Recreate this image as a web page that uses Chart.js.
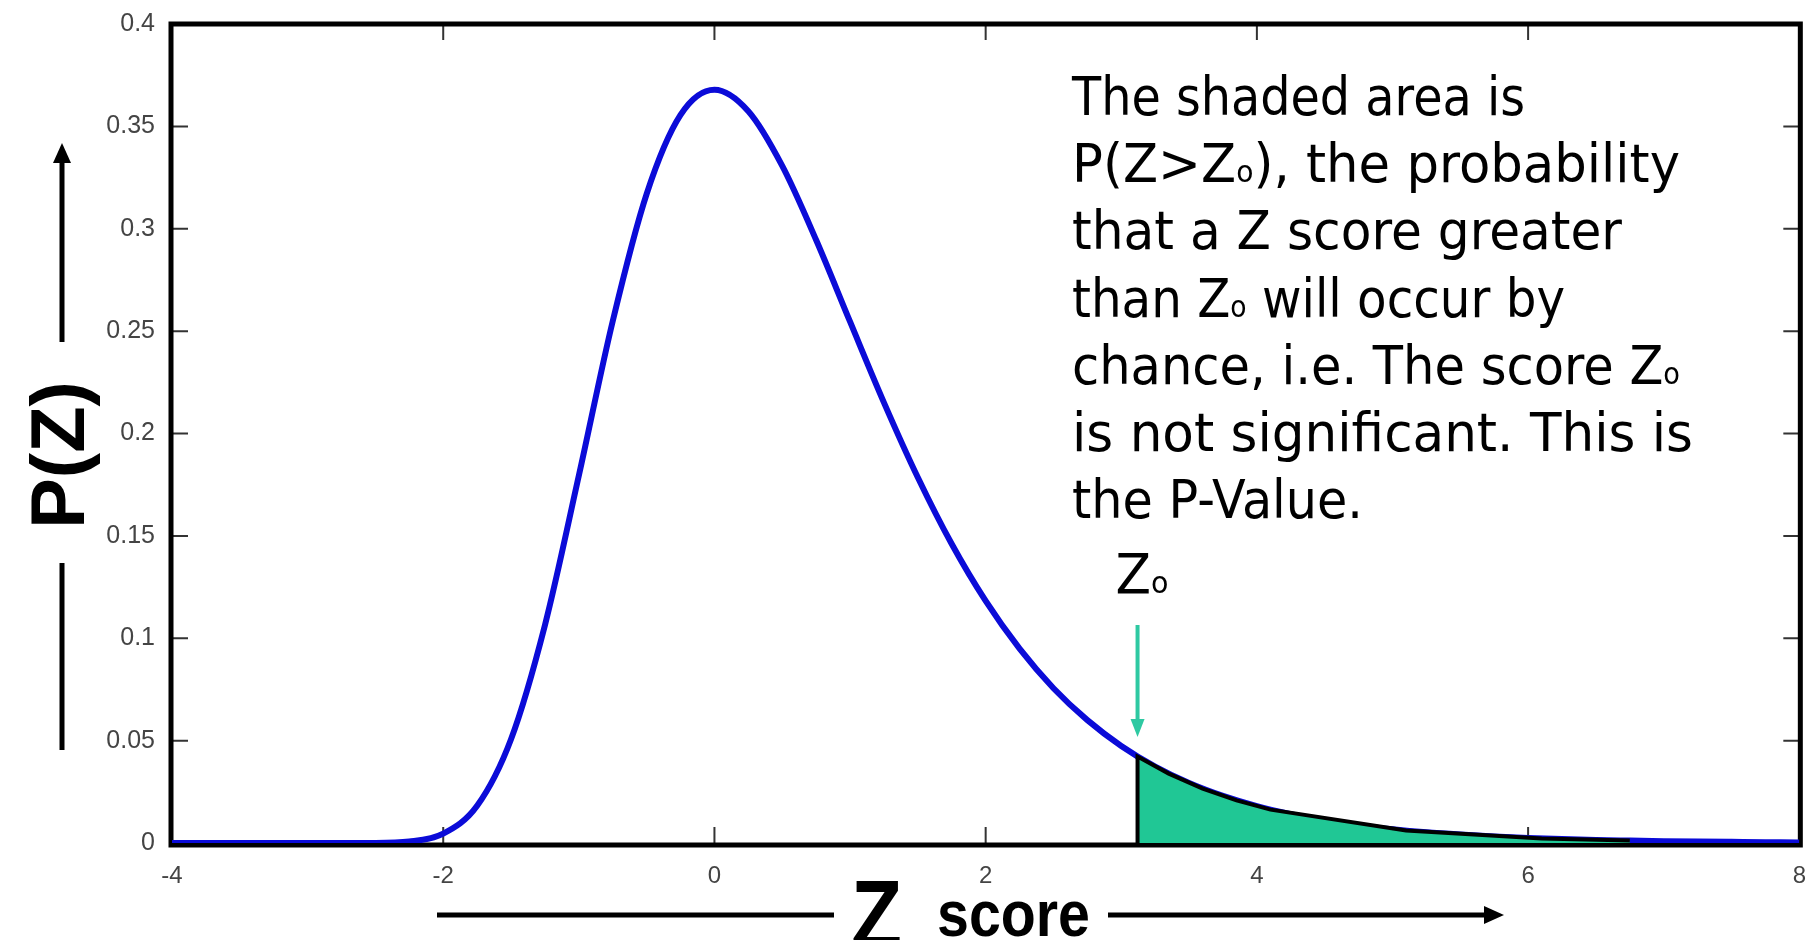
<!DOCTYPE html>
<html>
<head>
<meta charset="utf-8">
<script src="https://cdn.jsdelivr.net/npm/chart.js@4/dist/chart.umd.min.js"></script>
<style>
  html, body { margin: 0; padding: 0; background: #fff; }
  canvas { display: block; }
</style>
</head>
<body>
<canvas id="myChart" width="1817" height="940"></canvas>
<script>

// density curve P(Z), read at steps of 0.25
const zScores = [-4, -3.75, -3.5, -3.25, -3, -2.75, -2.5, -2.25, -2, -1.75, -1.5, -1.25,
  -1, -0.75, -0.5, -0.25, 0, 0.25, 0.5, 0.75, 1, 1.25, 1.5, 1.75,
  2, 2.25, 2.5, 2.75, 3, 3.25, 3.5, 3.75, 4, 4.25, 4.5, 4.75,
  5, 5.25, 5.5, 5.75, 6, 6.25, 6.5, 6.75, 7, 7.25, 7.5, 7.75, 8];
const density = [0, 0, 0, 0, 0, 0, 0, 0.0007, 0.0046, 0.0182, 0.0507, 0.1064,
  0.1794, 0.2549, 0.3170, 0.3556, 0.3679, 0.3574, 0.3307, 0.2945, 0.2546, 0.2151, 0.1785, 0.1460,
  0.1182, 0.0949, 0.0756, 0.0600, 0.0474, 0.0373, 0.0293, 0.0230, 0.0180, 0.0141, 0.0110, 0.0086,
  0.0067, 0.0052, 0.0041, 0.0032, 0.0025, 0.0019, 0.0015, 0.0012, 0.0009, 0.0007, 0.00055, 0.0004, 0.0003];

// shaded tail beyond Zo
const zNought = 3.12;
const tailZ = [3.12, 3.12, 3.35, 3.6, 3.85, 4.1, 5.1, 6.1, 6.75];
const tailP = [0, 0.0422, 0.0339, 0.0266, 0.0208, 0.0163, 0.0061, 0.0022, 0.0012];

const xTicks = [-4, -2, 0, 2, 4, 6, 8];
const yTicks = [0, 0.05, 0.1, 0.15, 0.2, 0.25, 0.3, 0.35, 0.4];

// "_o" marks a subscript o
const noteLines = [
  'The shaded area is',
  'P(Z>Z_o), the probability',
  'that a Z score greater',
  'than Z_o will occur by',
  'chance, i.e. The score Z_o',
  'is not significant. This is',
  'the P-Value.'
];
const noteWidths = [453, 608, 550, 493, 608, 621, 291];

const BLUE = '#0b0bd8';
const GREEN = '#20c795';
const TEAL = '#2ec9a2';
const HAND = '"DejaVu Sans"';

function drawRich(ctx, text, x, base, size, width) {
  const parts = text.split('_o');
  const seg = [];
  parts.forEach((p, i) => {
    if (p) seg.push({ t: p, s: size });
    if (i < parts.length - 1) seg.push({ t: 'o', s: size * 0.55 });
  });
  let total = 0;
  seg.forEach(g => { ctx.font = g.s + 'px ' + HAND; total += ctx.measureText(g.t).width; });
  ctx.save();
  ctx.translate(x, base);
  ctx.scale(width / total, 1);
  let cx = 0;
  seg.forEach(g => {
    ctx.font = g.s + 'px ' + HAND;
    ctx.fillText(g.t, cx, 0);
    cx += ctx.measureText(g.t).width;
  });
  ctx.restore();
}

function arrowHead(ctx, tipX, tipY, dx, dy, len, half) {
  // dx,dy: unit direction the arrow points to
  ctx.beginPath();
  ctx.moveTo(tipX, tipY);
  ctx.lineTo(tipX - dx * len - dy * half, tipY - dy * len + dx * half);
  ctx.lineTo(tipX - dx * len + dy * half, tipY - dy * len - dx * half);
  ctx.closePath();
  ctx.fill();
}

const boxPlugin = {
  id: 'box',
  beforeDatasetsDraw(chart) {
    const { ctx, chartArea: a, scales: { x, y } } = chart;
    ctx.save();
    // inward ticks on all four sides
    ctx.strokeStyle = '#333';
    ctx.lineWidth = 2;
    ctx.beginPath();
    xTicks.forEach(v => {
      const px = x.getPixelForValue(v);
      ctx.moveTo(px, a.bottom); ctx.lineTo(px, a.bottom - 16);
      ctx.moveTo(px, a.top); ctx.lineTo(px, a.top + 16);
    });
    yTicks.forEach(v => {
      const py = y.getPixelForValue(v);
      ctx.moveTo(a.left, py); ctx.lineTo(a.left + 16, py);
      ctx.moveTo(a.right, py); ctx.lineTo(a.right - 16, py);
    });
    ctx.stroke();
    ctx.strokeStyle = '#000';
    ctx.lineWidth = 5;
    ctx.strokeRect(a.left - 1, a.top, a.right - a.left + 2, a.bottom - a.top + 2);
    ctx.restore();
  },
  afterDraw(chart) {
    const { ctx, scales: { x } } = chart;
    ctx.save();
    ctx.fillStyle = '#000';
    ctx.textBaseline = 'alphabetic';

    // note text
    noteLines.forEach((line, i) => {
      drawRich(ctx, line, 1072, 115 + i * 67.2, 54, noteWidths[i]);
    });

    // Zo marker and arrow
    const zx = x.getPixelForValue(zNought);
    drawRich(ctx, 'Z_o', zx - 22, 593, 56, 53);
    ctx.strokeStyle = TEAL;
    ctx.fillStyle = TEAL;
    ctx.lineWidth = 4;
    ctx.beginPath();
    ctx.moveTo(zx, 625);
    ctx.lineTo(zx, 722);
    ctx.stroke();
    arrowHead(ctx, zx, 737, 0, 1, 18, 7);

    // y axis title
    ctx.fillStyle = '#000';
    ctx.save();
    ctx.translate(84, 455);
    ctx.rotate(-Math.PI / 2);
    ctx.font = 'bold 76px "Liberation Sans"';
    ctx.textAlign = 'center';
    ctx.fillText('P(Z)', 0, 0);
    ctx.restore();
    ctx.strokeStyle = '#000';
    ctx.lineWidth = 5;
    ctx.beginPath();
    ctx.moveTo(62, 342); ctx.lineTo(62, 158);
    ctx.moveTo(62, 563); ctx.lineTo(62, 750);
    ctx.stroke();
    arrowHead(ctx, 62, 143, 0, -1, 20, 9);

    // x axis title
    ctx.beginPath();
    ctx.moveTo(437, 915); ctx.lineTo(834, 915);
    ctx.moveTo(1108, 915); ctx.lineTo(1490, 915);
    ctx.stroke();
    arrowHead(ctx, 1504, 915, 1, 0, 20, 9);
    ctx.save();
    ctx.translate(851, 948);
    ctx.font = 'bold 96px "Liberation Sans"';
    ctx.scale(51 / ctx.measureText('Z').width, 1);
    ctx.fillText('Z', 0, 0);
    ctx.restore();
    ctx.save();
    ctx.translate(937, 936);
    ctx.font = 'bold 64px "Liberation Sans"';
    ctx.scale(153 / ctx.measureText('score').width, 1);
    ctx.fillText('score', 0, 0);
    ctx.restore();

    ctx.restore();
  }
};

const ctx = document.getElementById('myChart').getContext('2d');
const myChart = new Chart(ctx, {
  type: 'line',
  data: {
    datasets: [{
      label: 'tail',
      data: tailZ.map((z, i) => ({ x: z, y: tailP[i] })),
      borderColor: '#000',
      borderWidth: 4,
      backgroundColor: GREEN,
      fill: 'origin',
      tension: 0,
      pointRadius: 0,
      order: 0
    }, {
      label: 'P(Z)',
      data: zScores.map((z, i) => ({ x: z, y: density[i] })),
      borderColor: BLUE,
      borderWidth: 6,
      fill: false,
      cubicInterpolationMode: 'monotone',
      pointRadius: 0,
      order: 1
    }]
  },
  options: {
    responsive: false,
    animation: false,
    devicePixelRatio: 1,
    layout: { padding: { top: 18, right: 11, left: 0, bottom: 0 } },
    plugins: { legend: { display: false }, tooltip: { enabled: false } },
    scales: {
      x: {
        type: 'linear',
        min: -4,
        max: 8,
        grid: { display: false },
        border: { display: false },
        afterBuildTicks: scale => { scale.ticks = xTicks.map(v => ({ value: v })); },
        afterFit: scale => { scale.height = 97; },
        ticks: {
          padding: 11,
          color: '#444',
          font: { family: 'Liberation Sans', size: 24 },
          maxRotation: 0,
          callback: v => String(v)
        }
      },
      y: {
        min: 0,
        max: 0.4,
        grid: { display: false },
        border: { display: false },
        afterBuildTicks: scale => { scale.ticks = yTicks.map(v => ({ value: v })); },
        afterFit: scale => { scale.width = 172; },
        ticks: {
          padding: 9,
          color: '#444',
          font: { family: 'Liberation Sans', size: 25 },
          callback: v => String(parseFloat(Number(v).toFixed(2)))
        }
      }
    }
  },
  plugins: [boxPlugin]
});
</script>
</body>
</html>
